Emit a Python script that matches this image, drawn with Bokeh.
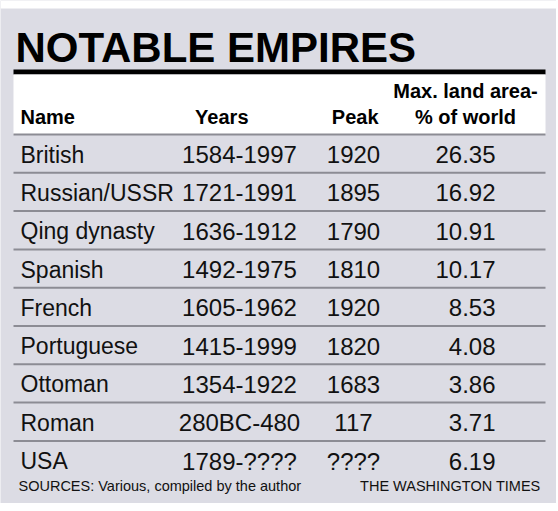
from bokeh.plotting import figure
from bokeh.models import Range1d, ColumnDataSource
from bokeh.core.properties import value
from bokeh.embed import file_html
from bokeh.resources import INLINE

title = "NOTABLE EMPIRES"
headers = ["Name", "Years", "Peak", "Max. land area-\n% of world"]
names = ["British", "Russian/USSR", "Qing dynasty", "Spanish", "French",
         "Portuguese", "Ottoman", "Roman", "USA"]
years = ["1584-1997", "1721-1991", "1636-1912", "1492-1975", "1605-1962",
         "1415-1999", "1354-1922", "280BC-480", "1789-????"]
peaks = ["1920", "1895", "1790", "1810", "1920", "1820", "1683", "117", "????"]
areas = ["26.35", "16.92", "10.91", "10.17", "8.53", "4.08", "3.86", "3.71", "6.19"]
source_note = "SOURCES: Various, compiled by the author"
credit = "THE WASHINGTON TIMES"

BG = "#dcdce4"
HEAD = "Liberation Sans"
BODY = "Liberation Sans"

W, H = 556, 503
p = figure(width=W, height=H, output_backend="svg", toolbar_location=None,
           x_range=Range1d(0, W), y_range=Range1d(H, 0),
           min_border=0, min_border_left=0, min_border_right=0,
           min_border_top=0, min_border_bottom=0)
p.axis.visible = False
p.grid.visible = False
p.outline_line_color = None
p.background_fill_color = BG
p.border_fill_color = BG

# white strip above panel
p.quad(left=[0], right=[W], top=[0], bottom=[8], fill_color="white", line_color=None)

L, R = 13, 545
top_row = 134
row_h = 38.3
n = len(names)

# title
p.text(x=[15], y=[47], text=[title], text_font=value(HEAD), text_font_style="bold",
       text_font_size="42px", text_color="black", text_baseline="middle")
# black rule
p.quad(left=[L], right=[R], top=[69], bottom=[74], fill_color="black", line_color=None)
# header box
p.quad(left=[L], right=[R], top=[74], bottom=[top_row], fill_color="white", line_color=None)

hdr = dict(text_font=value(HEAD), text_font_style="bold", text_font_size="20px",
           text_baseline="middle", text_color="black")
p.text(x=[20], y=[116], text=[headers[0]], text_align="left", **hdr)
p.text(x=[248], y=[116], text=[headers[1]], text_align="right", **hdr)
p.text(x=[378], y=[116], text=[headers[2]], text_align="right", **hdr)
h1, h2 = headers[3].split("\n")
p.text(x=[465, 465], y=[90, 116], text=[h1, h2], text_align="center", **hdr)

# separators
sep_y = [top_row + row_h * (i + 1) for i in range(n - 1)]
p.segment(x0=[L] * len(sep_y), x1=[R] * len(sep_y), y0=sep_y, y1=sep_y,
          line_color="#8c8c94", line_width=2)
p.segment(x0=[L], x1=[R], y0=[top_row], y1=[top_row], line_color="#8c8c94", line_width=2)

rows = ColumnDataSource(dict(
    y=[top_row + row_h * i + row_h / 2 + 1 for i in range(n)],
    name=names, years=years, peak=peaks, area=areas))
common = dict(text_font=value(BODY), text_color="#111111", text_baseline="middle")
p.text(x=20, y="y", text="name", source=rows, text_align="left",
       text_font_size="23px", **common)
p.text(x=239, y="y", text="years", source=rows, text_align="center",
       text_font_size="24px", **common)
p.text(x=353, y="y", text="peak", source=rows, text_align="center",
       text_font_size="24px", **common)
p.text(x=495, y="y", text="area", source=rows, text_align="right",
       text_font_size="24px", **common)

# footer
foot = dict(text_font=value(BODY), text_font_size="14.5px", text_baseline="middle",
            text_color="#111111")
p.text(x=[18], y=[485], text=[source_note], text_align="left", **foot)
p.text(x=[540], y=[485], text=[credit], text_align="right", **foot)

open("out.html", "w").write(file_html(p, INLINE))
